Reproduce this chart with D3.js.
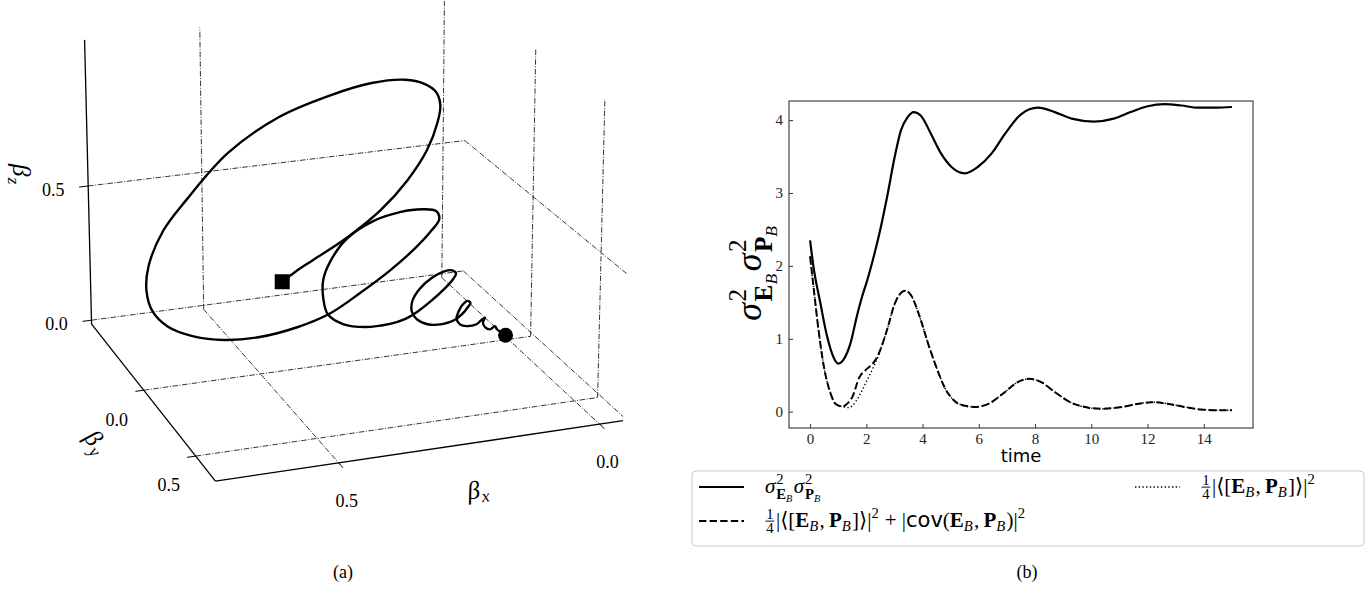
<!DOCTYPE html>
<html>
<head>
<meta charset="utf-8">
<script src="https://cdn.jsdelivr.net/npm/d3@7"></script>
<style>
  body { margin: 0; background: #fff; }
  svg { display: block; }
</style>
</head>
<body>
<svg id="fig" width="1372" height="609"></svg>
<script>
// ---------------- data, panel (a): trajectory of beta (start = square, end = dot)
var bx = [0.456, 0.430, 0.395, 0.327, 0.262, 0.209, 0.170, 0.149, 0.144, 0.153,
  0.177, 0.214, 0.280, 0.362, 0.461, 0.559, 0.641, 0.685, 0.714, 0.719,
  0.708, 0.679, 0.630, 0.571, 0.501, 0.427, 0.362, 0.302, 0.242, 0.193,
  0.160, 0.144, 0.150, 0.178, 0.223, 0.276, 0.327, 0.357, 0.375, 0.375,
  0.366, 0.336, 0.292, 0.242, 0.212, 0.186, 0.159, 0.133, 0.115, 0.109,
  0.117, 0.133, 0.159, 0.183, 0.197, 0.198, 0.188, 0.166, 0.136, 0.112,
  0.097, 0.085, 0.079, 0.085, 0.095, 0.103, 0.107, 0.100, 0.086, 0.066,
  0.055, 0.049, 0.053, 0.048, 0.038, 0.028, 0.024, 0.016, 0.006];
var by = [0, 0, 0, 0, 0, 0, 0, 0, 0, 0,
  0, 0, 0, 0, 0, 0, 0, 0, 0, 0,
  0, 0, 0, 0, 0, 0, 0, 0, 0, 0,
  0, 0, 0, 0, 0, 0, 0, 0, 0, 0,
  0, 0, 0, 0, 0, 0, 0, 0, 0, 0,
  0, 0, 0, 0, 0, 0, 0, 0, 0, 0,
  0, 0, 0, 0, 0, 0, 0, 0, 0, 0,
  0, 0, 0, 0, 0, 0, 0, 0, 0];
var bz = [0.309, 0.339, 0.373, 0.439, 0.520, 0.615, 0.715, 0.811, 0.871, 0.919,
  0.953, 0.974, 0.976, 0.949, 0.894, 0.790, 0.641, 0.545, 0.427, 0.341,
  0.264, 0.202, 0.155, 0.127, 0.120, 0.137, 0.171, 0.231, 0.299, 0.366,
  0.423, 0.462, 0.492, 0.505, 0.505, 0.485, 0.436, 0.372, 0.298, 0.227,
  0.168, 0.126, 0.104, 0.103, 0.113, 0.135, 0.167, 0.204, 0.236, 0.256,
  0.269, 0.269, 0.250, 0.216, 0.176, 0.138, 0.107, 0.083, 0.076, 0.084,
  0.101, 0.124, 0.140, 0.149, 0.137, 0.114, 0.089, 0.066, 0.056, 0.058,
  0.073, 0.078, 0.061, 0.042, 0.032, 0.041, 0.029, 0.016, 0.002];
var xLim = [-0.046, 0.728], yLim = [-0.549, 0.679], zLim = [-0.015, 1.03];
var ticks3d = [0.0, 0.5];

// ---------------- data, panel (b)
var tSolid = [0, 0.12, 0.36, 0.6, 0.84, 1.0, 1.2, 1.43, 1.67, 1.85, 2.03, 2.21, 2.45, 2.75, 3.0,
  3.23, 3.47, 3.68, 3.94, 4.3, 4.66, 5.02, 5.5, 5.97, 6.45, 6.93, 7.5, 8.1, 8.7, 9.3,
  10.1, 10.8, 11.4, 12.0, 12.6, 13.2, 13.8, 14.4, 15.0];
var vSolid = [2.35, 1.99, 1.5, 1.04, 0.74, 0.66, 0.72, 0.93, 1.32, 1.58, 1.8, 2.05, 2.42, 2.97, 3.48,
  3.86, 4.04, 4.11, 4.06, 3.81, 3.54, 3.36, 3.27, 3.36, 3.54, 3.81, 4.08, 4.17, 4.11, 4.02,
  3.98, 4.02, 4.11, 4.19, 4.22, 4.2, 4.17, 4.17, 4.18];
var tDash = [0, 0.12, 0.3, 0.48, 0.72, 0.9, 1.15, 1.35, 1.5, 1.75, 2.0, 2.25, 2.4, 2.5, 2.75,
  3.0, 3.3, 3.4, 3.6, 3.9, 4.2, 4.5, 4.8, 5.1, 5.5, 5.85, 6.3, 6.9, 7.4, 7.8,
  8.2, 8.7, 9.3, 9.9, 10.35, 11.1, 11.7, 12.15, 12.7, 13.3, 13.9, 14.5, 15.0];
var vDash = [2.13, 1.72, 1.12, 0.64, 0.26, 0.11, 0.07, 0.12, 0.2, 0.47, 0.58, 0.67, 0.76, 0.85, 1.14,
  1.47, 1.65, 1.66, 1.59, 1.3, 0.93, 0.6, 0.32, 0.16, 0.08, 0.065, 0.1, 0.26, 0.41, 0.45,
  0.41, 0.27, 0.12, 0.055, 0.04, 0.065, 0.11, 0.13, 0.11, 0.065, 0.03, 0.02, 0.02];
var tDot = tDash;
var vDot = [2.13, 1.72, 1.12, 0.64, 0.26, 0.11, 0.07, 0.055, 0.08, 0.22, 0.41, 0.61, 0.74, 0.85, 1.14,
  1.47, 1.65, 1.66, 1.59, 1.3, 0.93, 0.6, 0.32, 0.16, 0.08, 0.065, 0.1, 0.26, 0.41, 0.45,
  0.41, 0.27, 0.12, 0.055, 0.04, 0.065, 0.11, 0.13, 0.11, 0.065, 0.03, 0.02, 0.02];
var timeTicks = [0, 2, 4, 6, 8, 10, 12, 14];
var valTicks = [0, 1, 2, 3, 4];

var svg = d3.select("#fig");
svg.append("rect").attr("width", 1372).attr("height", 609).attr("fill", "#fff");

var SERIF = "'Liberation Serif', 'Times New Roman', 'DejaVu Serif', serif";
var SANS = "'DejaVu Sans', sans-serif";
var FONT = {
  it: { fam: SERIF, st: "italic", wt: "normal" },
  rm: { fam: SERIF, st: "normal", wt: "normal" },
  bf: { fam: SERIF, st: "normal", wt: "bold" },
  sf: { fam: SANS, st: "normal", wt: "normal" }
};

// small mathtext-like layout: returns end x
function mathRun(g, items, x, y, fs) {
  items.forEach(function (it) {
    if (typeof it === "string") it = { t: it, f: "rm" };
    if (it.t !== undefined) {
      var f = FONT[it.f || "rm"];
      var node = g.append("text").attr("x", x).attr("y", y)
        .style("font-size", fs + "px").style("font-family", f.fam)
        .style("font-style", f.st).style("font-weight", f.wt)
        .attr("fill", "#000").text(it.t);
      x += node.node().getComputedTextLength() + (it.f === "it" ? fs * 0.04 : 0);
    } else if (it.sp !== undefined) {
      x += it.sp * fs;
    } else if (it.frac) {
      var s = fs * 0.7, axis = y - fs * 0.28;
      var gn = g.append("g"), gd = g.append("g");
      var wn = mathRun(gn, it.frac[0], 0, 0, s), wd = mathRun(gd, it.frac[1], 0, 0, s);
      var w = Math.max(wn, wd) + fs * 0.12;
      gn.attr("transform", "translate(" + (x + (w - wn) / 2) + "," + (axis - fs * 0.1) + ")");
      gd.attr("transform", "translate(" + (x + (w - wd) / 2) + "," + (axis + s * 0.78) + ")");
      g.append("line").attr("x1", x + 0.5).attr("x2", x + w - 0.5)
        .attr("y1", axis).attr("y2", axis).attr("stroke", "#000").attr("stroke-width", fs * 0.045);
      x += w + fs * 0.05;
    } else {
      var x1 = x, x2 = x;
      if (it.sup) x1 = mathRun(g, it.sup, x, y - fs * 0.42, fs * 0.7);
      if (it.sub) x2 = mathRun(g, it.sub, x, y + fs * (it.sup ? 0.3 : 0.2), fs * 0.7);
      x = Math.max(x1, x2) + fs * 0.03;
    }
  });
  return x;
}
// centred math label, rotated by deg
function mathLabel(parent, items, cx, cy, fs, deg) {
  var outer = parent.append("g").attr("transform", "translate(" + cx + "," + cy + ") rotate(" + deg + ")");
  var inner = outer.append("g");
  var w = mathRun(inner, items, 0, 0, fs);
  inner.attr("transform", "translate(" + (-w / 2) + "," + (fs * 0.3) + ")");
  return w;
}

// ================= panel (a): 3-D view =================
var uS = d3.scaleLinear().domain(xLim).range([0, 1]);
var vS = d3.scaleLinear().domain(yLim).range([0, 1]);
var wS = d3.scaleLinear().domain(zLim).range([0, 1]);

// camera calibration: points of the axes box (data coords) -> page pixels
var calib = [
  [xLim[1], yLim[0], zLim[0], 92, 325], [xLim[1], yLim[1], zLim[0], 215, 479],
  [xLim[0], yLim[1], zLim[0], 622, 419], [xLim[0], yLim[0], zLim[0], 463, 273],
  [xLim[1], yLim[0], zLim[1], 85, 38], [xLim[0], yLim[0], zLim[1], 467, 0],
  [xLim[0], yLim[1], zLim[1], 629, 114],
  [xLim[1], yLim[0], 0.5, 90, 184], [xLim[1], yLim[0], 0, 92, 321],
  [xLim[0], yLim[0], 0.5, 465, 141],
  [0.5, yLim[1], zLim[0], 335, 463], [0, yLim[1], zLim[0], 598, 423],
  [xLim[1], 0, zLim[0], 147, 394], [xLim[1], 0.5, zLim[0], 197, 458],
  [0.5, yLim[0], zLim[0], 200, 307], [0, yLim[0], zLim[0], 441, 275],
  [xLim[0], 0, zLim[0], 533, 339], [xLim[0], 0.5, zLim[0], 600, 400],
  [0.5, yLim[0], zLim[1], 197, 28], [0, yLim[0], zLim[1], 443, 2],
  [xLim[0], 0, zLim[1], 538, 52], [xLim[0], 0.5, zLim[1], 607, 100]
];

function fitCamera(pts) {
  var A = [], b = [];
  pts.forEach(function (p) {
    var u = uS(p[0]), v = vS(p[1]), w = wS(p[2]), X = p[3], Y = p[4];
    A.push([u, v, w, 1, 0, 0, 0, 0, -X * u, -X * v, -X * w]); b.push(X);
    A.push([0, 0, 0, 0, u, v, w, 1, -Y * u, -Y * v, -Y * w]); b.push(Y);
  });
  var n = 11, M = [];
  for (var i = 0; i < n; i++) {
    var row = new Array(n + 1).fill(0);
    for (var k = 0; k < A.length; k++) {
      for (var j = 0; j < n; j++) row[j] += A[k][i] * A[k][j];
      row[n] += A[k][i] * b[k];
    }
    M.push(row);
  }
  for (var c = 0; c < n; c++) {
    var piv = c;
    for (var r = c + 1; r < n; r++) if (Math.abs(M[r][c]) > Math.abs(M[piv][c])) piv = r;
    var tmp = M[c]; M[c] = M[piv]; M[piv] = tmp;
    for (var r2 = 0; r2 < n; r2++) {
      if (r2 === c) continue;
      var f = M[r2][c] / M[c][c];
      for (var j2 = c; j2 <= n; j2++) M[r2][j2] -= f * M[c][j2];
    }
  }
  return M.map(function (row, i) { return row[n] / row[i]; });
}
var cam = fitCamera(calib);
function proj(x, y, z) {
  var u = uS(x), v = vS(y), w = wS(z);
  var d = cam[8] * u + cam[9] * v + cam[10] * w + 1;
  return [(cam[0] * u + cam[1] * v + cam[2] * w + cam[3]) / d,
          (cam[4] * u + cam[5] * v + cam[6] * w + cam[7]) / d];
}

var ga = svg.append("g");
function seg(a, b, dashed) {
  var p = proj(a[0], a[1], a[2]), q = proj(b[0], b[1], b[2]);
  var l = ga.append("line").attr("x1", p[0]).attr("y1", p[1]).attr("x2", q[0]).attr("y2", q[1]);
  if (dashed) l.attr("stroke", "#111").attr("stroke-width", 0.85).attr("stroke-dasharray", "5.5,1.6,1,1.6");
  else l.attr("stroke", "#000").attr("stroke-width", 1.3);
  return l;
}

// grid on the back wall, right wall and floor
ticks3d.forEach(function (t) {
  seg([t, yLim[0], zLim[0]], [t, yLim[0], zLim[1]], true);
  seg([xLim[1], yLim[0], t], [xLim[0], yLim[0], t], true);
  seg([xLim[0], t, zLim[0]], [xLim[0], t, zLim[1]], true);
  seg([xLim[0], yLim[0], t], [xLim[0], yLim[1], t], true);
  seg([t, yLim[0], zLim[0]], [t, yLim[1], zLim[0]], true);
  seg([xLim[1], t, zLim[0]], [xLim[0], t, zLim[0]], true);
});

// axis lines
seg([xLim[1], yLim[0], zLim[0]], [xLim[1], yLim[0], zLim[1]], false);
seg([xLim[1], yLim[0], zLim[0]], [xLim[1], yLim[1], zLim[0]], false);
seg([xLim[1], yLim[1], zLim[0]], [xLim[0], yLim[1], zLim[0]], false);

// ticks + tick labels
function tickLabel(p, dx, dy, txt) {
  ga.append("text").attr("x", p[0] + dx).attr("y", p[1] + dy).attr("dy", "0.35em")
    .attr("text-anchor", "middle").style("font-family", SERIF).style("font-size", "18px")
    .text(txt);
}
ticks3d.forEach(function (t) {
  var lab = d3.format(".1f")(t);
  seg([xLim[1], yLim[0], t], [xLim[1] + 0.018, yLim[0], t], false).attr("stroke-width", 1);
  tickLabel(proj(xLim[1], yLim[0], t), -35, 4, lab);
  seg([xLim[1], t, zLim[0]], [xLim[1] + 0.016, t, zLim[0]], false).attr("stroke-width", 1);
  tickLabel(proj(xLim[1], t, zLim[0]), -27, 29, lab);
  seg([t, yLim[1], zLim[0]], [t, yLim[1] + 0.035, zLim[0]], false).attr("stroke-width", 1);
  tickLabel(proj(t, yLim[1], zLim[0]), 8, 38, lab);
});

// axis labels
var pz = proj(xLim[1], yLim[0], 0.5);
mathLabel(ga, [{ t: "\u03B2", f: "it" }, { sub: [{ t: "z", f: "it" }] }], pz[0] - 68, pz[1] - 11, 25, 90);
var py = proj(xLim[1], 0.25, zLim[0]);
mathLabel(ga, [{ t: "\u03B2", f: "it" }, { sub: [{ t: "y", f: "it" }] }], py[0] - 73, py[1] + 20, 25, 51.4);
var px = proj(0.25, yLim[1], zLim[0]);
mathLabel(ga, [{ t: "\u03B2", f: "it" }, { sub: [{ t: "x", f: "it" }] }], px[0] + 8, px[1] + 47, 25, -8.4);

// trajectory
var traj = bx.map(function (x, i) { return proj(x, by[i], bz[i]); });
ga.append("path").attr("d", d3.line().curve(d3.curveCatmullRom.alpha(0.5))(traj))
  .attr("fill", "none").attr("stroke", "#000").attr("stroke-width", 2.4)
  .attr("stroke-linejoin", "round");
var p0 = traj[0], p1 = traj[traj.length - 1];
ga.append("rect").attr("x", p0[0] - 7.5).attr("y", p0[1] - 7.5).attr("width", 15).attr("height", 15).attr("fill", "#000");
ga.append("circle").attr("cx", p1[0]).attr("cy", p1[1]).attr("r", 7.5).attr("fill", "#000");

svg.append("text").attr("x", 343).attr("y", 578).attr("text-anchor", "middle")
  .style("font-family", SERIF).style("font-size", "18px").text("(a)");

// ================= panel (b): time series =================
var B = { left: 789, right: 1253, top: 101, bottom: 428 };
var xB = d3.scaleLinear().domain([-0.75, 15.75]).range([B.left, B.right]);
var yB = d3.scaleLinear().domain([-0.224, 4.262]).range([B.bottom, B.top]);
var gb = svg.append("g");

var xAxis = gb.append("g").attr("transform", "translate(0," + B.bottom + ")")
  .call(d3.axisBottom(xB).tickValues(timeTicks).tickSize(-4).tickPadding(5).tickFormat(d3.format("d")));
var yAxis = gb.append("g").attr("transform", "translate(" + B.left + ",0)")
  .call(d3.axisLeft(yB).tickValues(valTicks).tickSize(-4).tickPadding(6).tickFormat(d3.format("d")));
[xAxis, yAxis].forEach(function (a) {
  a.select(".domain").remove();
  a.selectAll("line").attr("stroke", "#333").attr("stroke-width", 1);
  a.selectAll("text").style("font-family", SERIF).style("font-size", "15px").attr("fill", "#222");
});
gb.append("rect").attr("x", B.left).attr("y", B.top).attr("width", B.right - B.left)
  .attr("height", B.bottom - B.top).attr("fill", "none").attr("stroke", "#444").attr("stroke-width", 1.2);

function series(ts, vs, dash, width) {
  var line = d3.line().curve(d3.curveMonotoneX)
    .x(function (d) { return xB(d[0]); }).y(function (d) { return yB(d[1]); });
  var p = gb.append("path").attr("d", line(ts.map(function (t, i) { return [t, vs[i]]; })))
    .attr("fill", "none").attr("stroke", "#000").attr("stroke-width", width);
  if (dash) p.attr("stroke-dasharray", dash);
  return p;
}
series(tSolid, vSolid, null, 2.2);
series(tDash, vDash, "7.4,3.2", 2);
series(tDot, vDot, "1.4,2.3", 1.4);

gb.append("text").attr("x", (B.left + B.right) / 2).attr("y", 462).attr("text-anchor", "middle")
  .style("font-family", SANS).style("font-size", "18px").text("time");

var sigEP = [{ t: "\u03C3", f: "it" }, { sup: ["2"], sub: [{ t: "E", f: "bf" }, { sub: [{ t: "B", f: "it" }] }] },
  { t: "\u03C3", f: "it" }, { sup: ["2"], sub: [{ t: "P", f: "bf" }, { sub: [{ t: "B", f: "it" }] }] }];
mathLabel(gb, sigEP, 750, 272, 36, -90);

// legend
var commPart = [{ frac: [["1"], ["4"]] }, "|", "\u27E8", "[", { t: "E", f: "bf" }, { sub: [{ t: "B", f: "it" }] },
  ",", { sp: 0.2 }, { t: "P", f: "bf" }, { sub: [{ t: "B", f: "it" }] }, "]", "\u27E9", "|", { sup: ["2"] }];
var covPart = commPart.concat([{ sp: 0.25 }, "+", { sp: 0.25 }, "|", { t: "cov", f: "sf" }, "(",
  { t: "E", f: "bf" }, { sub: [{ t: "B", f: "it" }] }, ",", { sp: 0.2 }, { t: "P", f: "bf" },
  { sub: [{ t: "B", f: "it" }] }, ")", "|", { sup: ["2"] }]);

var gl = svg.append("g");
gl.append("rect").attr("x", 692).attr("y", 471).attr("width", 672).attr("height", 75)
  .attr("rx", 4).attr("fill", "#fff").attr("stroke", "#ccc").attr("stroke-width", 1);
var legendRows = [
  { x: 699, y: 487, dash: null, w: 2, items: sigEP },
  { x: 699, y: 521, dash: "7.4,3.2", w: 2, items: covPart },
  { x: 1135, y: 487, dash: "1.4,2.3", w: 1.4, items: commPart }
];
legendRows.forEach(function (r) {
  var l = gl.append("line").attr("x1", r.x).attr("x2", r.x + 45).attr("y1", r.y).attr("y2", r.y)
    .attr("stroke", "#000").attr("stroke-width", r.w);
  if (r.dash) l.attr("stroke-dasharray", r.dash);
  mathRun(gl.append("g"), r.items, r.x + 66, r.y + 6, 21);
});

svg.append("text").attr("x", 1027).attr("y", 578).attr("text-anchor", "middle")
  .style("font-family", SERIF).style("font-size", "18px").text("(b)");
</script>
</body>
</html>
